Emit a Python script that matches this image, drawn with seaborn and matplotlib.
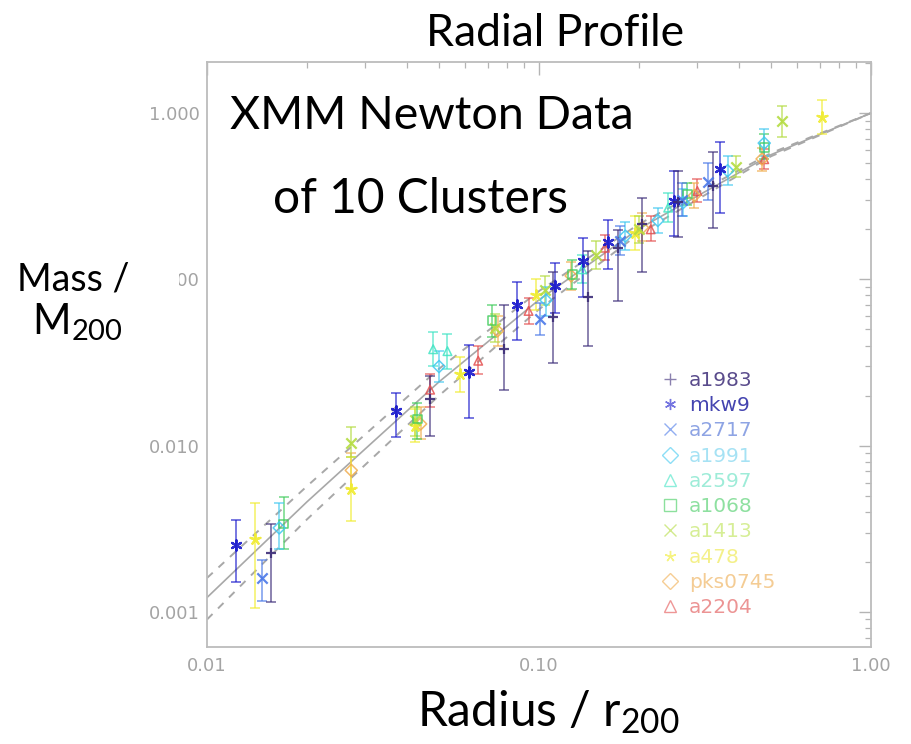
import numpy as np
import pandas as pd
import matplotlib
matplotlib.use("Agg")
import matplotlib.pyplot as plt
import seaborn as sns
from matplotlib.lines import Line2D
from matplotlib.patches import Rectangle
from matplotlib.ticker import FixedLocator, LogLocator, NullFormatter, FixedFormatter

sns.set_theme(style="white")
plt.rcParams['font.family'] = ['Lato', 'DejaVu Sans']
plt.rcParams['mathtext.fontset'] = 'custom'
plt.rcParams['mathtext.rm'] = 'Lato'
plt.rcParams['mathtext.it'] = 'Lato:italic'

# ---------------- data ----------------
clusters = ["a1983", "mkw9", "a2717", "a1991", "a2597", "a1068", "a1413", "a478", "pks0745", "a2204"]
colors = ["#3c2c78", "#1818cc", "#4a78e8", "#40c8f0", "#40e4c4", "#40cc5c", "#b4dc40", "#f0ec30", "#f0ac4c", "#e45050"]
legend_text_colors = ["#5a4c8c", "#4444b0", "#8ea4e4", "#a6e2f4", "#9eecd8", "#8ee0a0", "#d6ee96", "#f4f08a", "#f4cc94", "#ec9494"]
markers = ["+", (6, 2, 0), "x", "D", "^", "s", "x", (5, 2, 0), "D", "^"]
hollow = [False, False, False, True, True, True, False, False, True, True]

radius = {
    "a1983":   [0.0156, 0.0469, 0.0782, 0.110, 0.140, 0.1727, 0.205, 0.262, 0.335],
    "mkw9":    [0.01224, 0.0371, 0.0615, 0.0861, 0.112, 0.136, 0.161, 0.255, 0.352],
    "a2717":   [0.0146, 0.101, 0.176, 0.270, 0.324],
    "a1991":   [0.0165, 0.050, 0.105, 0.182, 0.228, 0.272, 0.370, 0.477],
    "a2597":   [0.048, 0.053, 0.135, 0.245],
    "a1068":   [0.0170, 0.043, 0.0721, 0.126, 0.280, 0.477],
    "a1413":   [0.0272, 0.0423, 0.0735, 0.104, 0.148, 0.200, 0.393, 0.541],
    "a478":    [0.0139, 0.0272, 0.0423, 0.0577, 0.098, 0.195, 0.710],
    "pks0745": [0.0272, 0.0440, 0.075, 0.125, 0.205, 0.294, 0.470],
    "a2204":   [0.047, 0.0656, 0.093, 0.158, 0.217, 0.300, 0.477],
}
mass = {
    "a1983":   [0.00227, 0.019, 0.038, 0.059, 0.078, 0.155, 0.214, 0.29, 0.364],
    "mkw9":    [0.00252, 0.0161, 0.0276, 0.070, 0.0914, 0.129, 0.168, 0.294, 0.462],
    "a2717":   [0.0016, 0.058, 0.17, 0.30, 0.384],
    "a1991":   [0.0032, 0.0299, 0.075, 0.182, 0.226, 0.29, 0.45, 0.66],
    "a2597":   [0.038, 0.037, 0.115, 0.27],
    "a1068":   [0.00338, 0.0145, 0.0566, 0.107, 0.327, 0.62],
    "a1413":   [0.0103, 0.0142, 0.051, 0.0866, 0.14, 0.20, 0.475, 0.90],
    "a478":    [0.00273, 0.00546, 0.0131, 0.0269, 0.080, 0.19, 0.95],
    "pks0745": [0.0071, 0.0135, 0.049, 0.105, 0.205, 0.319, 0.53],
    "a2204":   [0.0217, 0.0324, 0.0646, 0.155, 0.20, 0.34, 0.528],
}
mass_lo = {
    "a1983":   [0.00114, 0.0115, 0.0217, 0.0315, 0.040, 0.074, 0.11, 0.18, 0.203],
    "mkw9":    [0.00152, 0.0112, 0.0146, 0.0434, 0.063, 0.078, 0.116, 0.182, 0.251],
    "a2717":   [0.00117, 0.046, 0.14, 0.24, 0.30],
    "a1991":   [0.0024, 0.024, 0.06, 0.15, 0.19, 0.24, 0.37, 0.55],
    "a2597":   [0.030, 0.029, 0.095, 0.22],
    "a1068":   [0.00239, 0.011, 0.045, 0.088, 0.28, 0.53],
    "a1413":   [0.0085, 0.0115, 0.042, 0.070, 0.115, 0.165, 0.41, 0.72],
    "a478":    [0.00105, 0.0035, 0.0105, 0.021, 0.065, 0.15, 0.75],
    "pks0745": [0.0055, 0.011, 0.040, 0.086, 0.17, 0.27, 0.45],
    "a2204":   [0.017, 0.027, 0.054, 0.13, 0.17, 0.29, 0.46],
}
mass_hi = {
    "a1983":   [0.00338, 0.0262, 0.070, 0.110, 0.1475, 0.198, 0.31, 0.45, 0.587],
    "mkw9":    [0.00356, 0.0206, 0.0401, 0.0964, 0.126, 0.178, 0.226, 0.45, 0.671],
    "a2717":   [0.00204, 0.072, 0.21, 0.38, 0.50],
    "a1991":   [0.0045, 0.037, 0.09, 0.22, 0.27, 0.35, 0.55, 0.80],
    "a2597":   [0.048, 0.047, 0.14, 0.33],
    "a1068":   [0.0049, 0.018, 0.070, 0.13, 0.38, 0.75],
    "a1413":   [0.013, 0.017, 0.062, 0.105, 0.17, 0.24, 0.55, 1.10],
    "a478":    [0.0045, 0.0085, 0.0165, 0.034, 0.10, 0.24, 1.20],
    "pks0745": [0.009, 0.017, 0.060, 0.128, 0.25, 0.38, 0.62],
    "a2204":   [0.027, 0.040, 0.077, 0.185, 0.24, 0.40, 0.61],
}

# model profile
fit_r = [0.01, 0.02, 0.05, 0.1, 0.2, 0.5, 1.0]
fit_m = [0.00122, 0.00459, 0.0242, 0.0753, 0.2015, 0.562, 1.0]
fit_m_upper = [0.0016, 0.0057, 0.029, 0.085, 0.215, 0.575, 1.0]
fit_m_lower = [0.0009, 0.0036, 0.020, 0.066, 0.188, 0.550, 1.0]

xticks = [0.01, 0.1, 1.0]
xticklabels = ["0.01", "0.10", "1.00"]
yticks = [0.001, 0.01, 0.1, 1.0]
yticklabels = ["0.001", "0.010", "0.100", "1.000"]

# ---------------- figure ----------------
fig = plt.figure(figsize=(9.12, 7.44), dpi=100)
ax = fig.add_axes([0.227, 0.1304, 0.728, 0.7863])
ax.set_xscale("log")
ax.set_yscale("log")

fit_df = pd.DataFrame({"r": fit_r, "m": fit_m, "up": fit_m_upper, "lo": fit_m_lower})
sns.lineplot(data=fit_df, x="r", y="m", color="#a8a8a8", lw=1.2, ax=ax, zorder=1)
sns.lineplot(data=fit_df, x="r", y="up", color="#a8a8a8", lw=1.4, ax=ax, zorder=1, dashes=False, linestyle=(0, (4, 4)))
sns.lineplot(data=fit_df, x="r", y="lo", color="#a8a8a8", lw=1.4, ax=ax, zorder=1, dashes=False, linestyle=(0, (4, 4)))

draw_order = list(range(len(clusters)))[::-1]
for i in draw_order:
    name = clusters[i]
    c = colors[i]
    r = np.array(radius[name])
    m = np.array(mass[name])
    lo = np.array(mass_lo[name])
    hi = np.array(mass_hi[name])
    ax.errorbar(r, m, yerr=[m - lo, hi - m], fmt="none", ecolor=c, elinewidth=1.1,
                capsize=3.5, capthick=1.1, alpha=0.75, zorder=2 + (len(clusters) - i) * 0.1)
    if hollow[i]:
        sns.scatterplot(x=r, y=m, marker=markers[i], s=38, facecolor="none", edgecolor=c,
                        linewidth=1.1, ax=ax, legend=False, zorder=3 + (len(clusters) - i) * 0.1, alpha=0.85)
    else:
        sns.scatterplot(x=r, y=m, marker=markers[i], s=55, color=c, linewidth=1.6,
                        ax=ax, legend=False, zorder=3 + (len(clusters) - i) * 0.1, alpha=0.9)

ax.set_xlim(0.01, 1.0)
ax.set_ylim(0.000615, 2.03)
ax.set_xlabel("")
ax.set_ylabel("")

ax.xaxis.set_major_locator(FixedLocator(xticks))
ax.xaxis.set_major_formatter(FixedFormatter(xticklabels))
ax.yaxis.set_major_locator(FixedLocator(yticks))
ax.yaxis.set_major_formatter(FixedFormatter(yticklabels))
ax.xaxis.set_minor_locator(LogLocator(base=10, subs=np.arange(2, 10), numticks=20))
ax.yaxis.set_minor_locator(LogLocator(base=10, subs=np.arange(2, 10), numticks=20))
ax.xaxis.set_minor_formatter(NullFormatter())
ax.yaxis.set_minor_formatter(NullFormatter())
ax.tick_params(which="both", direction="in", top=True, right=True, color="#b4b4b4",
               labelcolor="#a4a4a4", labelsize=13)
ax.tick_params(which="major", length=9, width=1.0)
ax.tick_params(which="minor", length=4.5, width=0.9)
ax.tick_params(axis="x", pad=7)
ax.tick_params(axis="y", pad=5)
for lab in ax.get_xticklabels() + ax.get_yticklabels():
    lab.set_family("DejaVu Sans")
for sp in ax.spines.values():
    sp.set_color("#bcbcbc")
    sp.set_linewidth(1.3)
ax.grid(False)

# legend
handles = []
for i in range(len(clusters)):
    handles.append(Line2D([], [], marker=markers[i], linestyle="none", color=colors[i],
                          markerfacecolor="none" if hollow[i] else colors[i],
                          markeredgecolor=colors[i], markersize=8, markeredgewidth=1.0, alpha=0.6))
leg = ax.legend(handles, clusters, loc="upper left", bbox_to_anchor=(0.667, 0.489), frameon=False,
                labelcolor=legend_text_colors, prop={"family": "DejaVu Sans", "size": 14.5},
                handlelength=1.0, handletextpad=0.45, labelspacing=0.31, borderpad=0)

# texts
fig.text(555 / 912, 1 - 46 / 744, "Radial Profile", ha="center", va="baseline", fontsize=32, color="black")
fig.text(432 / 912, 1 - 129 / 744, "XMM Newton Data", ha="center", va="baseline", fontsize=33.5, color="black", zorder=10)
fig.text(421 / 912, 1 - 213 / 744, "of 10 Clusters", ha="center", va="baseline", fontsize=34.5, color="black", zorder=10)
fig.text(548 / 912, 1 - 726 / 744, "Radius / r$_{200}$", ha="center", va="baseline", fontsize=34.5, color="black")
# white patch over part of the 0.100 label (as in the reference)
fig.add_artist(Rectangle((0, 1 - 294 / 744), 179 / 912, 30 / 744, transform=fig.transFigure,
                         facecolor="white", edgecolor="none", zorder=20))
fig.text(73 / 912, 1 - 290 / 744, "Mass /", ha="center", va="baseline", fontsize=27, color="black", zorder=21)
fig.text(77 / 912, 1 - 334 / 744, "M$_{200}$", ha="center", va="baseline", fontsize=30, color="black", zorder=21)

fig.savefig("out.png", dpi=100)
